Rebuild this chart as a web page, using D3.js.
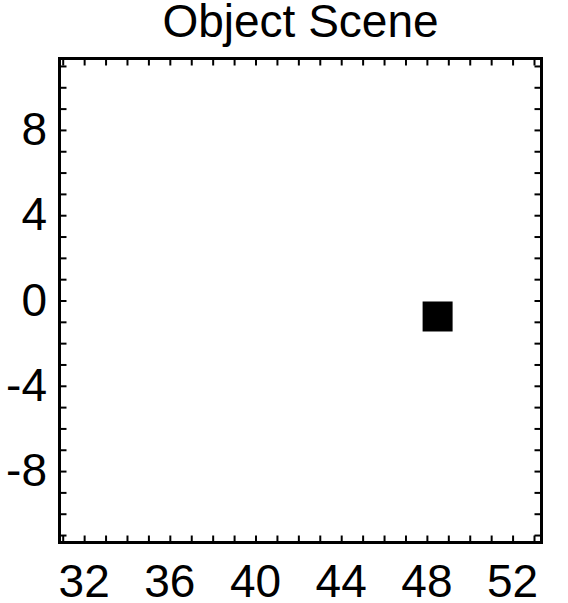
<!DOCTYPE html>
<html>
<head>
<meta charset="utf-8">
<script src="https://cdn.jsdelivr.net/npm/d3@7/dist/d3.min.js"></script>
<style>
  html, body { margin: 0; padding: 0; background: #fff; }
  svg { display: block; }
  text { font-family: "Liberation Sans", Arial, Helvetica, sans-serif; fill: #000; }
</style>
</head>
<body>
<svg id="chart" width="568" height="603"></svg>
<script>
// ---- data ----
const title = "Object Scene";
const xDomain = [30.85, 53.35];
const yDomain = [-11.35, 11.35];
const xTickLabels = [32, 36, 40, 44, 48, 52];
const yTickLabels = [-8, -4, 0, 4, 8];
const xMinorTicks = d3.range(31, 54, 1);
const yMinorTicks = d3.range(-11, 12, 1);
const pointX = [48.5];
const pointY = [-0.75];

// ---- layout ----
const W = 568, H = 603;
const L = 59.5, R = 541.5, T = 58.5, B = 542.5;
const svg = d3.select("#chart");

const x = d3.scaleLinear().domain(xDomain).range([L, R]);
const y = d3.scaleLinear().domain(yDomain).range([B, T]);

// ticks (inward, all four sides)
const tickLen = 7;
function styleAxis(g) {
  g.select(".domain").remove();
  g.selectAll(".tick line").attr("stroke", "#000").attr("stroke-width", 2);
  g.selectAll(".tick text").remove();
}
svg.append("g").attr("transform", `translate(0,${B})`)
  .call(d3.axisBottom(x).tickValues(xMinorTicks).tickSize(-tickLen).tickFormat(""))
  .call(styleAxis);
svg.append("g").attr("transform", `translate(0,${T})`)
  .call(d3.axisTop(x).tickValues(xMinorTicks).tickSize(-tickLen).tickFormat(""))
  .call(styleAxis);
svg.append("g").attr("transform", `translate(${L},0)`)
  .call(d3.axisLeft(y).tickValues(yMinorTicks).tickSize(-tickLen).tickFormat(""))
  .call(styleAxis);
svg.append("g").attr("transform", `translate(${R},0)`)
  .call(d3.axisRight(y).tickValues(yMinorTicks).tickSize(-tickLen).tickFormat(""))
  .call(styleAxis);

// frame
svg.append("rect")
  .attr("x", L).attr("y", T)
  .attr("width", R - L).attr("height", B - T)
  .attr("fill", "none").attr("stroke", "#000").attr("stroke-width", 3);

// tick labels
svg.append("g").selectAll("text").data(xTickLabels).join("text")
  .attr("x", d => x(d)).attr("y", 597)
  .attr("text-anchor", "middle")
  .attr("font-size", 46)
  .text(d => d);
svg.append("g").selectAll("text").data(yTickLabels).join("text")
  .attr("x", 47).attr("y", d => y(d) + 15)
  .attr("text-anchor", "end")
  .attr("font-size", 46)
  .text(d => d);

// title
svg.append("text")
  .attr("x", (L + R) / 2).attr("y", 37)
  .attr("text-anchor", "middle")
  .attr("font-size", 46)
  .text(title);

// point (filled square symbol)
const sq = 30;
svg.append("g").selectAll("rect").data(pointX.map((v, i) => [v, pointY[i]])).join("rect")
  .attr("x", d => x(d[0]) - sq / 2)
  .attr("y", d => y(d[1]) - sq / 2)
  .attr("width", sq).attr("height", sq)
  .attr("fill", "#000");
</script>
</body>
</html>
